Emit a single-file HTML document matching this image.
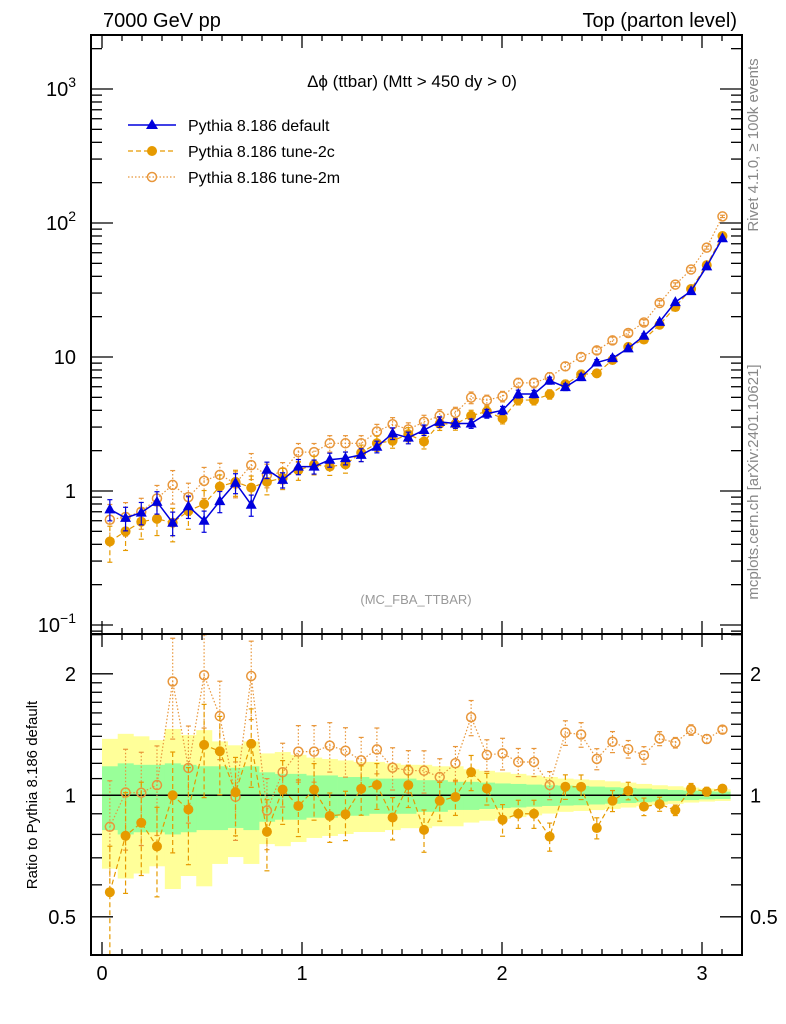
<!DOCTYPE html>
<html><head><meta charset="utf-8"><style>
body{margin:0;background:#fff;}
svg{display:block;font-family:"Liberation Sans",sans-serif;}
</style></head><body>
<svg id="chart" width="786" height="1024" viewBox="0 0 786 1024" xmlns="http://www.w3.org/2000/svg">
<text x="103" y="27" font-size="20">7000 GeV pp</text>
<text x="737" y="27" font-size="20" text-anchor="end">Top (parton level)</text>
<text transform="translate(758,145) rotate(-90)" font-size="15" fill="#888" text-anchor="middle">Rivet 4.1.0, ≥ 100k events</text>
<text transform="translate(758,482) rotate(-90)" font-size="15" fill="#888" text-anchor="middle">mcplots.cern.ch [arXiv:2401.10621]</text>
<text transform="translate(37,795) rotate(-90)" font-size="15" text-anchor="middle">Ratio to Pythia 8.186 default</text>
<text x="412" y="87" font-size="17" text-anchor="middle">Δϕ (ttbar) (Mtt &gt; 450 dy &gt; 0)</text>
<text x="416" y="604" font-size="13" fill="#999" text-anchor="middle">(MC_FBA_TTBAR)</text>
<g id="bands"></g><g id="marks"></g><g id="axes"></g>
<g>
 <g>
  <line x1="128" y1="125" x2="176" y2="125" stroke="#0000dd" stroke-width="1.5"/>
  <polygon points="152,119 158,129 146,129" fill="#0000dd"/>
  <text x="188" y="131" font-size="16">Pythia 8.186 default</text></g>
 <g>
  <line x1="128" y1="151" x2="176" y2="151" stroke="#e69a00" stroke-width="1.3" stroke-dasharray="5,3"/>
  <circle cx="152" cy="151" r="5" fill="#e69a00"/>
  <text x="188" y="157" font-size="16">Pythia 8.186 tune-2c</text></g>
 <g>
  <line x1="128" y1="177" x2="176" y2="177" stroke="#e8963a" stroke-width="1.3" stroke-dasharray="1.5,2"/>
  <circle cx="152" cy="177" r="4.5" fill="none" stroke="#e8963a" stroke-width="1.5"/>
  <text x="188" y="183" font-size="16">Pythia 8.186 tune-2m</text></g>
</g>
</svg>
<script>
const nBins = 40;
const xMax = Math.PI;
const defVals = [0.73,0.63,0.69,0.83,0.58,0.77,0.60,0.84,1.15,0.79,1.44,1.21,1.52,1.52,1.71,1.76,1.86,2.14,2.69,2.5,2.85,3.28,3.19,3.19,3.78,4.0,5.3,5.3,6.67,5.96,7.07,9.1,9.8,11.6,14.4,18.3,25.7,31,47.5,77];
const tune2cVals = [0.42,0.50,0.59,0.62,0.58,0.71,0.80,1.08,1.17,1.06,1.17,1.25,1.43,1.57,1.52,1.58,1.93,2.27,2.37,2.65,2.34,3.18,3.16,3.64,3.93,3.48,4.77,4.77,5.27,6.26,7.42,7.55,9.5,11.9,13.5,17.4,23.6,32.2,48.5,80];
const tune2mVals = [0.61,0.64,0.70,0.88,1.11,0.90,1.19,1.32,1.14,1.56,1.32,1.38,1.95,1.95,2.27,2.27,2.27,2.78,3.15,2.88,3.28,3.64,3.83,4.98,4.76,5.08,6.41,6.41,7.07,8.52,10.0,11.2,13.3,15.1,18.1,25.3,34.7,45,65.5,112];
const statErr = [0.18,0.20,0.19,0.19,0.20,0.19,0.18,0.18,0.17,0.18,0.14,0.13,0.13,0.12,0.12,0.11,0.11,0.10,0.10,0.10,0.09,0.09,0.08,0.08,0.075,0.07,0.067,0.063,0.059,0.057,0.055,0.051,0.047,0.043,0.039,0.035,0.031,0.027,0.023,0.021];
const totErr = [0.38,0.42,0.40,0.37,0.46,0.41,0.45,0.36,0.33,0.36,0.27,0.28,0.26,0.24,0.23,0.22,0.21,0.21,0.20,0.19,0.19,0.18,0.18,0.16,0.15,0.14,0.13,0.12,0.11,0.10,0.095,0.09,0.083,0.075,0.067,0.059,0.053,0.045,0.039,0.035];
const altErr = [0.30,0.28,0.26,0.25,0.28,0.27,0.26,0.22,0.22,0.22,0.20,0.18,0.16,0.16,0.14,0.14,0.14,0.13,0.12,0.12,0.12,0.11,0.10,0.10,0.09,0.09,0.08,0.08,0.08,0.07,0.07,0.06,0.06,0.05,0.05,0.04,0.03,0.03,0.025,0.02];
const xTicks = [0,1,2,3];
const mainTicks = [-1,0,1,2,3];
const ratioTicks = [0.5,1,2];

const NS="http://www.w3.org/2000/svg";
const L=91,R=742,T=35,MB=634,B=955;
const X=x=>102+200*x;
const Y=v=>491-134*Math.log10(v);
const RY=r=>795.3-121.5*Math.log2(r);
function mk(tag,attrs,parent){const e=document.createElementNS(NS,tag);for(const k in attrs)e.setAttribute(k,attrs[k]);parent.appendChild(e);return e;}
const bands=document.getElementById('bands'),marks=document.getElementById('marks'),axes=document.getElementById('axes');
const bw=xMax/nBins;
const cx=i=>X((i+0.5)*bw);

for(let i=0;i<nBins;i++){
  const x0=X(i*bw),x1=X((i+1)*bw);
  let y=mk('rect',{x:x0,width:x1-x0+0.3,y:RY(1+totErr[i]),height:RY(1-0.9*totErr[i])-RY(1+totErr[i]),fill:'#ffff99'},bands);
  
  
}
for(let i=0;i<nBins;i++){
  const x0=X(i*bw),x1=X((i+1)*bw);
  let g=mk('rect',{x:x0,width:x1-x0+0.3,y:RY(1+statErr[i]),height:RY(1-statErr[i])-RY(1+statErr[i]),fill:'#99ff99'},bands);
  
  
}
let one=mk('line',{x1:L,x2:R,y1:RY(1),y2:RY(1),stroke:'#000','stroke-width':1.5},bands);



function series(vals,errs,color,dash,kind,name,ratio){
  const g=mk('g',{},marks);
  
  
  const yf=ratio?(i=>RY(vals[i]/defVals[i])):(i=>Y(vals[i]));
  const ye=ratio?((i,s)=>RY(vals[i]/defVals[i]*(1+s*errs[i]))):((i,s)=>Y(vals[i]*(1+s*errs[i])));
  let pts=[];for(let i=0;i<nBins;i++)pts.push(cx(i)+','+yf(i));
  mk('polyline',{points:pts.join(' '),fill:'none',stroke:color,'stroke-width':kind==='tri'?1.5:1.2,'stroke-dasharray':dash},g);
  for(let i=0;i<nBins;i++){
    const x=cx(i),y1=ye(i,1),y2=ye(i,-1);
    mk('line',{x1:x,x2:x,y1:y1,y2:y2,stroke:color,'stroke-width':1.2,'stroke-dasharray':dash},g);
    mk('line',{x1:x-2.5,x2:x+2.5,y1:y1,y2:y1,stroke:color,'stroke-width':1.2},g);
    mk('line',{x1:x-2.5,x2:x+2.5,y1:y2,y2:y2,stroke:color,'stroke-width':1.2},g);
    const y=yf(i);let m;
    if(kind==='tri')m=mk('polygon',{points:`${x},${y-6} ${x+5.5},${y+4} ${x-5.5},${y+4}`,fill:color},g);
    else if(kind==='dot')m=mk('circle',{cx:x,cy:y,r:5,fill:color},g);
    else m=mk('circle',{cx:x,cy:y,r:4.5,fill:'none',stroke:color,'stroke-width':1.5},g);
    
    
  }
}
series(tune2mVals,altErr,'#e8963a','1.5,2','ring','tune-2m-series',false);
series(tune2cVals,altErr,'#e69a00','5,3','dot','tune-2c-series',false);
series(defVals,statErr,'#0000dd','','tri','default-series',false);
series(tune2mVals,altErr,'#e8963a','1.5,2','ring','tune-2m-ratio',true);
series(tune2cVals,altErr,'#e69a00','5,3','dot','tune-2c-ratio',true);

let f1=mk('rect',{x:L,y:T,width:R-L,height:MB-T,fill:'none',stroke:'#000','stroke-width':2},axes);

let f2=mk('rect',{x:L,y:MB,width:R-L,height:B-MB,fill:'none',stroke:'#000','stroke-width':2},axes);

for(let k=0;k<=31;k++){
  const x=X(k/10),maj=k%10===0,len=maj?13:6;
  for(const [yb,dir] of [[T,1],[MB,-1],[MB,1],[B,-1]])
    mk('line',{x1:x,x2:x,y1:yb,y2:yb+dir*len,stroke:'#000','stroke-width':1.3},axes);
}
xTicks.forEach(t=>{let e=mk('text',{x:X(t),y:980,'font-size':20,'text-anchor':'middle'},axes);e.textContent=t;
  });
for(let d=-2;d<=3;d++)for(let m=1;m<=9;m++){
  const y=Y(m*Math.pow(10,d));if(y<T||y>MB)continue;
  const len=m===1?22:11;
  mk('line',{x1:L,x2:L+len,y1:y,y2:y,stroke:'#000','stroke-width':1.3},axes);
  mk('line',{x1:R,x2:R-len,y1:y,y2:y,stroke:'#000','stroke-width':1.3},axes);
}
mainTicks.forEach(d=>{
  const y=Y(Math.pow(10,d));
  let e=mk('text',{x:76,y:y+7,'font-size':20,'text-anchor':'end'},axes);
  
  if(d===0)e.textContent='1';else if(d===1)e.textContent='10';
  else{e.textContent='10';let s=mk('tspan',{dy:-9,'font-size':14},e);s.textContent=String(d).replace('-','−');}
});
[0.4,0.5,0.6,0.7,0.8,0.9,1,1.1,1.2,1.3,1.4,1.5,1.6,1.7,1.8,1.9,2,2.5].forEach(r=>{
  const y=RY(r);if(y<MB||y>B)return;const len=[0.5,1,2].includes(r)?22:11;
  mk('line',{x1:L,x2:L+len,y1:y,y2:y,stroke:'#000','stroke-width':1.3},axes);
  mk('line',{x1:R,x2:R-len,y1:y,y2:y,stroke:'#000','stroke-width':1.3},axes);
});
ratioTicks.forEach(r=>{
  for(const [x,a] of [[76,'end'],[750,'start']]){
    let e=mk('text',{x:x,y:RY(r)+7,'font-size':20,'text-anchor':a},axes);e.textContent=r;
    
  }
});
</script>
</body></html>
